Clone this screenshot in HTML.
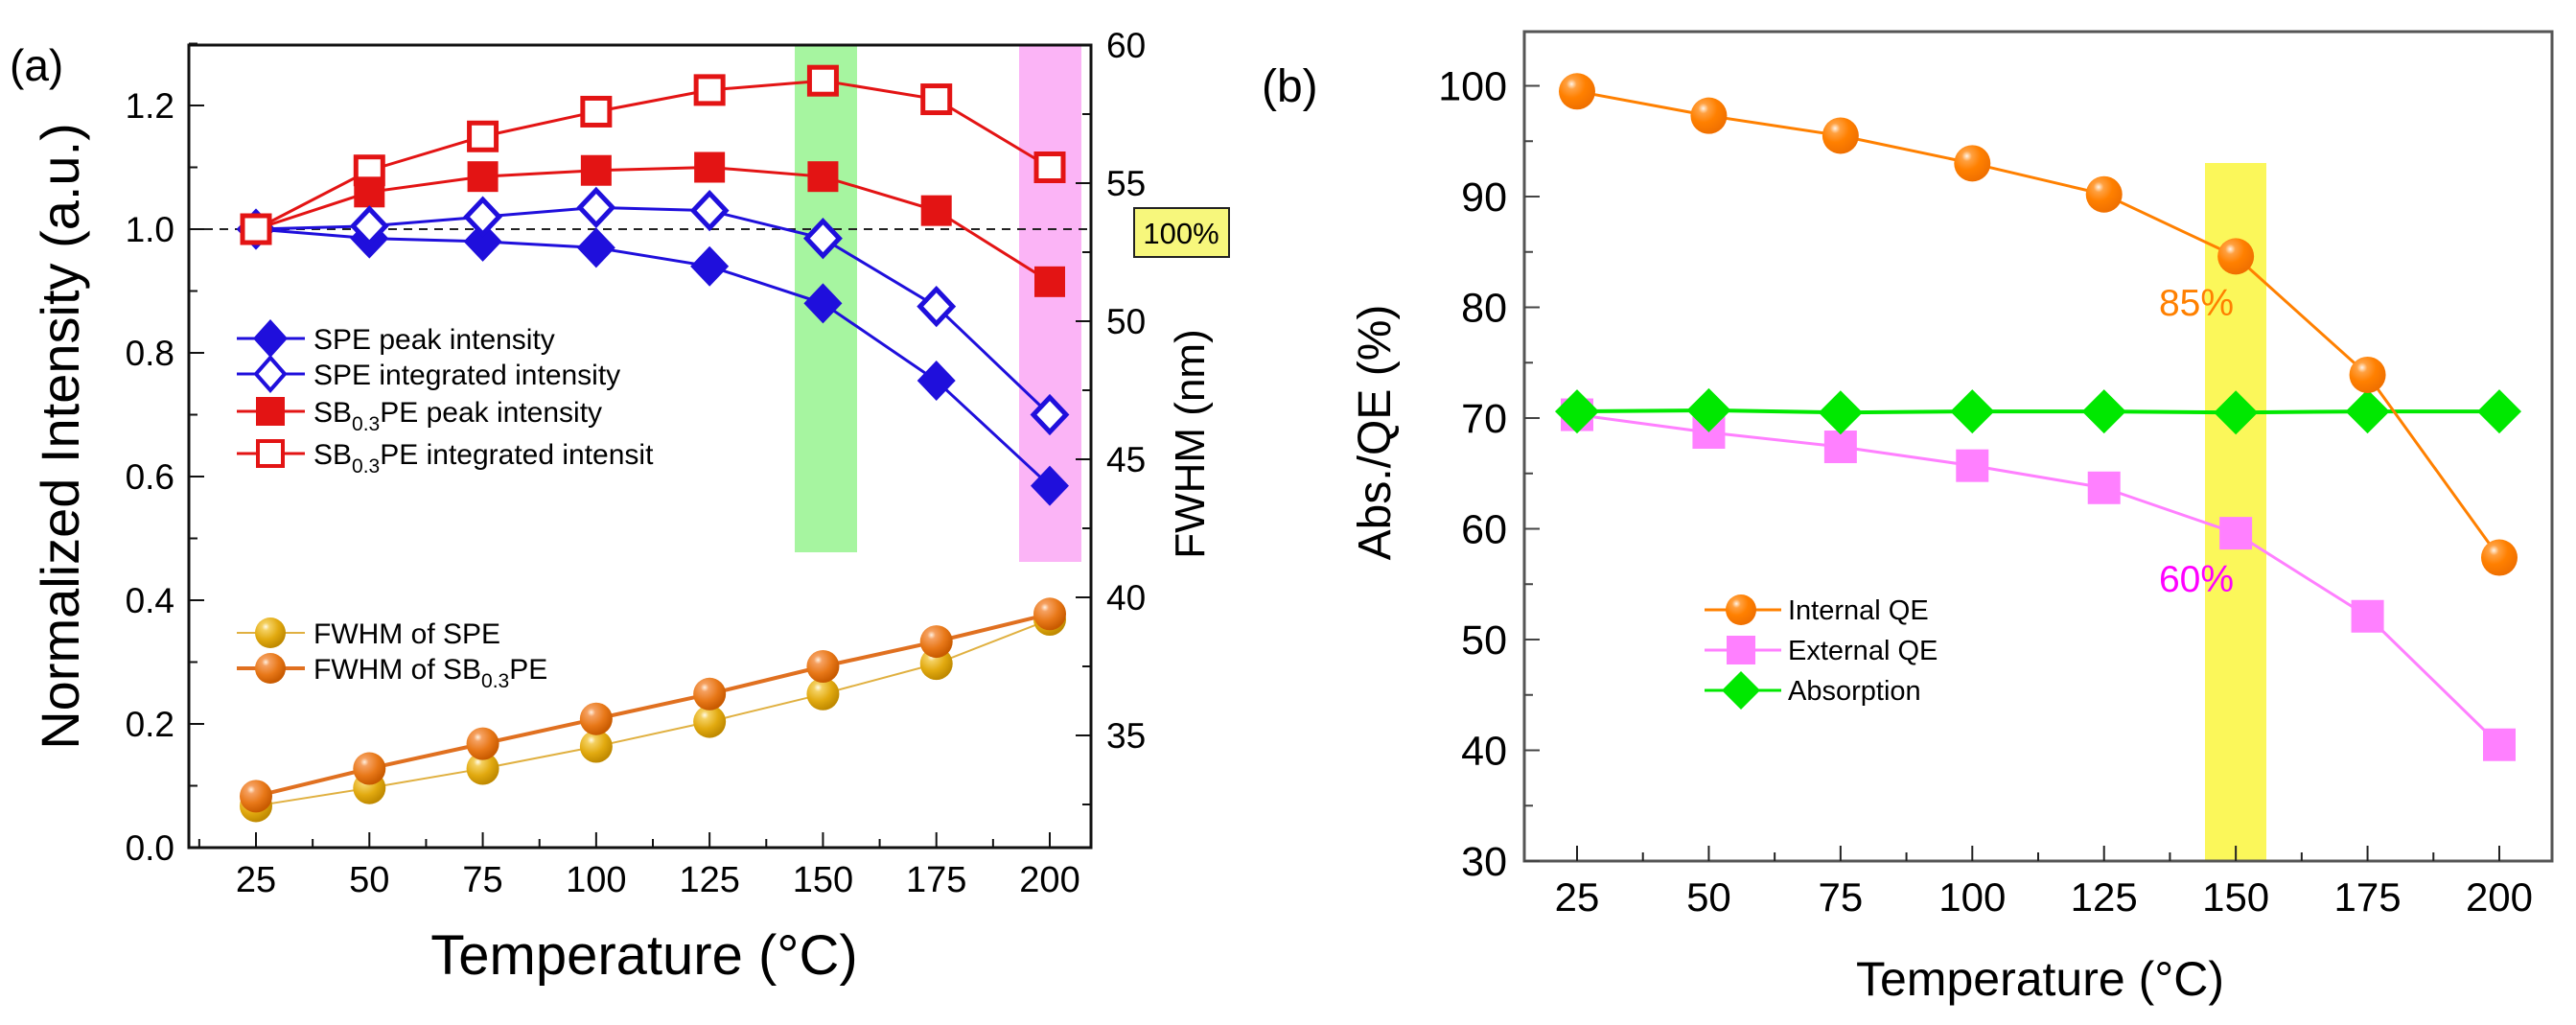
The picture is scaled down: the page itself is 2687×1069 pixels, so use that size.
<!DOCTYPE html>
<html><head><meta charset="utf-8">
<style>
html,body{margin:0;padding:0;background:#fff;}
svg{display:block;font-family:"Liberation Sans",Arial,sans-serif;}
</style></head>
<body>
<svg id="fig" width="2687" height="1069" viewBox="0 0 2687 1069">
<defs>
<radialGradient id="gGold" cx="0.35" cy="0.3" r="0.7">
<stop offset="0" stop-color="#fffbe8"/><stop offset="0.18" stop-color="#f4d060"/><stop offset="0.6" stop-color="#e2aa10"/><stop offset="1" stop-color="#c08a00"/></radialGradient>
<radialGradient id="gOrange" cx="0.35" cy="0.3" r="0.7">
<stop offset="0" stop-color="#fff0e0"/><stop offset="0.18" stop-color="#f5a060"/><stop offset="0.6" stop-color="#e87818"/><stop offset="1" stop-color="#c85a00"/></radialGradient>
<radialGradient id="gIQE" cx="0.35" cy="0.3" r="0.7">
<stop offset="0" stop-color="#fff4e8"/><stop offset="0.2" stop-color="#ffa040"/><stop offset="0.55" stop-color="#ff8000"/><stop offset="1" stop-color="#f07000"/></radialGradient>
</defs>
<g id="panelA"></g>
<g id="panelB"></g>
</svg>
<script>
// ---------- Panel (a) data ----------
const tempsA = [25, 50, 75, 100, 125, 150, 175, 200];
const spePeak = [1.0, 0.985, 0.98, 0.97, 0.94, 0.88, 0.755, 0.585];
const speInteg = [1.0, 1.005, 1.02, 1.035, 1.03, 0.985, 0.875, 0.70];
const sbPeak = [1.0, 1.06, 1.085, 1.095, 1.10, 1.085, 1.03, 0.915];
const sbInteg = [1.0, 1.095, 1.15, 1.19, 1.225, 1.24, 1.21, 1.10];
const fwhmSPE = [32.45, 33.1, 33.8, 34.6, 35.5, 36.5, 37.6, 39.2];
const fwhmSB = [32.8, 33.8, 34.7, 35.6, 36.5, 37.5, 38.4, 39.4];
const xTicksA = [25, 50, 75, 100, 125, 150, 175, 200];
const yTicksA = [0.0, 0.2, 0.4, 0.6, 0.8, 1.0, 1.2];
const yTicksA2 = [35, 40, 45, 50, 55, 60];
// ---------- Panel (b) data ----------
const tempsB = [25, 50, 75, 100, 125, 150, 175, 200];
const internalQE = [99.5, 97.3, 95.5, 93.0, 90.2, 84.6, 73.9, 57.4];
const externalQE = [70.3, 68.7, 67.4, 65.7, 63.7, 59.6, 52.1, 40.5];
const absorption = [70.6, 70.7, 70.5, 70.6, 70.6, 70.5, 70.6, 70.6];
const xTicksB = [25, 50, 75, 100, 125, 150, 175, 200];
const yTicksB = [30, 40, 50, 60, 70, 80, 90, 100];

const NS = "http://www.w3.org/2000/svg";
function mk(parent, tag, attrs, text) {
  const e = document.createElementNS(NS, tag);
  for (const k in attrs) e.setAttribute(k, attrs[k]);
  if (text !== undefined) e.textContent = text;
  parent.appendChild(e);
  return e;
}
function diamond(cx, cy, w, h) { return `${cx},${cy-h/2} ${cx+w/2},${cy} ${cx},${cy+h/2} ${cx-w/2},${cy}`; }

// ================= PANEL A =================
(function(){
  const g = document.getElementById('panelA');
  const L = 197, R = 1138, T = 47, B = 884;
  const xA = t => 267 + (t - 25) * (1095 - 267) / 175;
  const yA = v => B - v * 645;
  const yF = nm => 47 + (60 - nm) * 28.8;

  let e = mk(g, 'rect', {x: 829, y: T, width: 65, height: 576 - T, fill: '#a6f5a0'});
  
  
  e = mk(g, 'rect', {x: 1063, y: T, width: 65, height: 586 - T, fill: '#fbb4f6'});
  
  

  e = mk(g, 'line', {x1: L, x2: R, y1: yA(1.0), y2: yA(1.0), stroke: '#222', 'stroke-width': 2, 'stroke-dasharray': '9,7'});
  
  

  e = mk(g, 'rect', {x: L, y: T, width: R - L, height: B - T, fill: 'none', stroke: '#111', 'stroke-width': 3});
  
  

  xTicksA.forEach(t => {
    const x = xA(t);
    mk(g, 'line', {x1: x, x2: x, y1: B, y2: B - 16, stroke: '#111', 'stroke-width': 2});
    const tx = mk(g, 'text', {x: x, y: 930, 'font-size': 38, 'text-anchor': 'middle'}, String(t));
    
    
  });
  for (let t = 12.5; t <= 212.5; t += 25) {
    const x = xA(t);
    if (x > L && x < R) mk(g, 'line', {x1: x, x2: x, y1: B, y2: B - 9, stroke: '#111', 'stroke-width': 2});
  }
  yTicksA.forEach(v => {
    const y = yA(v);
    mk(g, 'line', {x1: L, x2: L + 16, y1: y, y2: y, stroke: '#111', 'stroke-width': 2});
    const tx = mk(g, 'text', {x: 182, y: y + 13, 'font-size': 37, 'text-anchor': 'end'}, v.toFixed(1));
    
    
  });
  for (let v = 0.1; v < 1.3; v += 0.2) { const y = yA(v); mk(g, 'line', {x1: L, x2: L + 9, y1: y, y2: y, stroke: '#111', 'stroke-width': 2}); }
  yTicksA2.forEach(nm => {
    const y = yF(nm);
    mk(g, 'line', {x1: R, x2: R - 16, y1: y, y2: y, stroke: '#111', 'stroke-width': 2});
    const tx = mk(g, 'text', {x: 1154, y: y + 13, 'font-size': 37}, String(nm));
    
    
  });
  for (let nm = 32.5; nm < 60; nm += 5) { const y = yF(nm); mk(g, 'line', {x1: R, x2: R - 9, y1: y, y2: y, stroke: '#111', 'stroke-width': 2}); }

  e = mk(g, 'text', {x: 0, y: 0, 'font-size': 56, 'text-anchor': 'middle', transform: 'translate(82,455) rotate(-90)'}, 'Normalized Intensity (a.u.)');
  
  
  e = mk(g, 'text', {x: 0, y: 0, 'font-size': 44, 'text-anchor': 'middle', transform: 'translate(1256,463) rotate(-90)'}, 'FWHM (nm)');
  
  
  e = mk(g, 'text', {x: 672, y: 1016, 'font-size': 58, 'text-anchor': 'middle'}, 'Temperature (°C)');
  
  
  e = mk(g, 'text', {x: 10, y: 84, 'font-size': 46}, '(a)');
  
  

  e = mk(g, 'rect', {x: 1183, y: 217, width: 99, height: 51, fill: '#f7f77c', stroke: '#222', 'stroke-width': 2});
  
  
  e = mk(g, 'text', {x: 1232, y: 254, 'font-size': 31, 'text-anchor': 'middle'}, '100%');
  
  

  function series(name, vals, yfn, color, lw, marker) {
    const sg = mk(g, 'g', {});
    
    
    const pts = vals.map((v, i) => [xA(tempsA[i]), yfn(v)]);
    mk(sg, 'polyline', {points: pts.map(p => p.join(',')).join(' '), fill: 'none', stroke: color, 'stroke-width': lw});
    pts.forEach(p => {
      const m = marker(sg, p[0], p[1]);
      
      
    });
  }
  const blue = '#1f0fdc', red = '#e31414';
  series('fwhm-spe-series', fwhmSPE, yF, '#e0b040', 2, (p, x, y) => mk(p, 'circle', {cx: x, cy: y, r: 17, fill: 'url(#gGold)'}));
  series('fwhm-sb-series', fwhmSB, yF, '#e07020', 4, (p, x, y) => mk(p, 'circle', {cx: x, cy: y, r: 17, fill: 'url(#gOrange)'}));
  series('sb-integrated-series', sbInteg, yA, red, 3, (p, x, y) => mk(p, 'rect', {x: x - 14, y: y - 14, width: 28, height: 28, fill: '#fff', stroke: red, 'stroke-width': 5}));
  series('sb-peak-series', sbPeak, yA, red, 3, (p, x, y) => mk(p, 'rect', {x: x - 16, y: y - 16, width: 32, height: 32, fill: red}));
  series('spe-peak-series', spePeak, yA, blue, 3, (p, x, y) => mk(p, 'polygon', {points: diamond(x, y, 40, 42), fill: blue}));
  series('spe-integrated-series', speInteg, yA, blue, 3, (p, x, y) => mk(p, 'polygon', {points: diamond(x, y, 34, 36), fill: '#fff', stroke: blue, 'stroke-width': 5}));
  mk(g, 'rect', {x: xA(25) - 14, y: yA(sbInteg[0]) - 14, width: 28, height: 28, fill: '#fff', stroke: red, 'stroke-width': 5});

  const lg = mk(g, 'g', {});
  
  
  const entries = [
    {y: 353, c: blue, lw: 3, m: (p, x, y) => mk(p, 'polygon', {points: diamond(x, y, 36, 40), fill: blue}), t: ['SPE peak intensity']},
    {y: 390, c: blue, lw: 3, m: (p, x, y) => mk(p, 'polygon', {points: diamond(x, y, 30, 34), fill: '#fff', stroke: blue, 'stroke-width': 4}), t: ['SPE integrated intensity']},
    {y: 429, c: red, lw: 3, m: (p, x, y) => mk(p, 'rect', {x: x - 15, y: y - 15, width: 30, height: 30, fill: red}), t: ['SB', '0.3', 'PE peak intensity']},
    {y: 473, c: red, lw: 3, m: (p, x, y) => mk(p, 'rect', {x: x - 13, y: y - 13, width: 26, height: 26, fill: '#fff', stroke: red, 'stroke-width': 4}), t: ['SB', '0.3', 'PE integrated intensit']},
    {y: 660, c: '#e0b040', lw: 2, m: (p, x, y) => mk(p, 'circle', {cx: x, cy: y, r: 16, fill: 'url(#gGold)'}), t: ['FWHM of SPE']},
    {y: 697, c: '#e07020', lw: 4, m: (p, x, y) => mk(p, 'circle', {cx: x, cy: y, r: 16, fill: 'url(#gOrange)'}), t: ['FWHM of SB', '0.3', 'PE']}
  ];
  entries.forEach(en => {
    const eg = mk(lg, 'g', {});
    
    
    mk(eg, 'line', {x1: 247, x2: 318, y1: en.y, y2: en.y, stroke: en.c, 'stroke-width': en.lw});
    en.m(eg, 282, en.y);
    const tx = mk(eg, 'text', {x: 327, y: en.y + 11, 'font-size': 30});
    mk(tx, 'tspan', {}, en.t[0]);
    if (en.t.length > 1) {
      mk(tx, 'tspan', {'font-size': 21, dy: 9}, en.t[1]);
      mk(tx, 'tspan', {dy: -9}, en.t[2]);
    }
  });
})();

// ================= PANEL B =================
(function(){
  const g = document.getElementById('panelB');
  const L = 1590, R = 2662, T = 33, B = 898;
  const xB = t => 1645 + (t - 25) * (2607 - 1645) / 175;
  const yB = v => B - (v - 30) * 11.55;

  let e = mk(g, 'rect', {x: 2300, y: 170, width: 64, height: B - 170, fill: '#fbf75a'});
  
  

  e = mk(g, 'rect', {x: L, y: T, width: R - L, height: B - T, fill: 'none', stroke: '#555', 'stroke-width': 3});
  
  

  xTicksB.forEach(t => {
    const x = xB(t);
    mk(g, 'line', {x1: x, x2: x, y1: B, y2: B - 16, stroke: '#222', 'stroke-width': 2});
    const tx = mk(g, 'text', {x: x, y: 950, 'font-size': 42, 'text-anchor': 'middle'}, String(t));
    
    
  });
  for (let t = 12.5; t <= 212.5; t += 25) {
    const x = xB(t);
    if (x > L && x < R) mk(g, 'line', {x1: x, x2: x, y1: B, y2: B - 9, stroke: '#222', 'stroke-width': 2});
  }
  yTicksB.forEach(v => {
    const y = yB(v);
    mk(g, 'line', {x1: L, x2: L + 16, y1: y, y2: y, stroke: '#444', 'stroke-width': 2});
    const tx = mk(g, 'text', {x: 1572, y: y + 15, 'font-size': 43, 'text-anchor': 'end'}, String(v));
    
    
  });
  for (let v = 35; v < 105; v += 10) { const y = yB(v); mk(g, 'line', {x1: L, x2: L + 9, y1: y, y2: y, stroke: '#444', 'stroke-width': 2}); }

  e = mk(g, 'text', {x: 0, y: 0, 'font-size': 48, 'text-anchor': 'middle', transform: 'translate(1450,451) rotate(-90)'}, 'Abs./QE (%)');
  
  
  e = mk(g, 'text', {x: 2128, y: 1038, 'font-size': 50, 'text-anchor': 'middle'}, 'Temperature (°C)');
  
  
  e = mk(g, 'text', {x: 1316, y: 106, 'font-size': 48}, '(b)');
  
  

  function series(name, vals, color, lw, marker) {
    const sg = mk(g, 'g', {});
    
    
    const pts = vals.map((v, i) => [xB(tempsB[i]), yB(v)]);
    mk(sg, 'polyline', {points: pts.map(p => p.join(',')).join(' '), fill: 'none', stroke: color, 'stroke-width': lw});
    pts.forEach(p => {
      const m = marker(sg, p[0], p[1]);
      
      
    });
  }
  series('external-qe-series', externalQE, '#ff80ff', 3, (p, x, y) => mk(p, 'rect', {x: x - 17, y: y - 17, width: 34, height: 34, fill: '#ff80ff'}));
  series('absorption-series', absorption, '#00e800', 4, (p, x, y) => mk(p, 'polygon', {points: diamond(x, y, 46, 46), fill: '#00e800'}));
  series('internal-qe-series', internalQE, '#ff8000', 3, (p, x, y) => mk(p, 'circle', {cx: x, cy: y, r: 19, fill: 'url(#gIQE)'}));

  e = mk(g, 'text', {x: 2291, y: 329, 'font-size': 39, 'text-anchor': 'middle', fill: '#ff8000'}, '85%');
  
  
  e = mk(g, 'text', {x: 2291, y: 617, 'font-size': 39, 'text-anchor': 'middle', fill: '#ff00ff'}, '60%');
  
  

  const lg = mk(g, 'g', {});
  
  
  const entries = [
    {y: 636, c: '#ff8000', m: (p, x, y) => mk(p, 'circle', {cx: x, cy: y, r: 16, fill: 'url(#gIQE)'}), t: 'Internal QE'},
    {y: 678, c: '#ff80ff', m: (p, x, y) => mk(p, 'rect', {x: x - 15, y: y - 15, width: 30, height: 30, fill: '#ff80ff'}), t: 'External QE'},
    {y: 720, c: '#00e800', m: (p, x, y) => mk(p, 'polygon', {points: diamond(x, y, 40, 40), fill: '#00e800'}), t: 'Absorption'}
  ];
  entries.forEach(en => {
    const eg = mk(lg, 'g', {});
    
    
    mk(eg, 'line', {x1: 1778, x2: 1858, y1: en.y, y2: en.y, stroke: en.c, 'stroke-width': 3});
    en.m(eg, 1816, en.y);
    mk(eg, 'text', {x: 1865, y: en.y + 10, 'font-size': 29}, en.t);
  });
})();
</script>
</body></html>
